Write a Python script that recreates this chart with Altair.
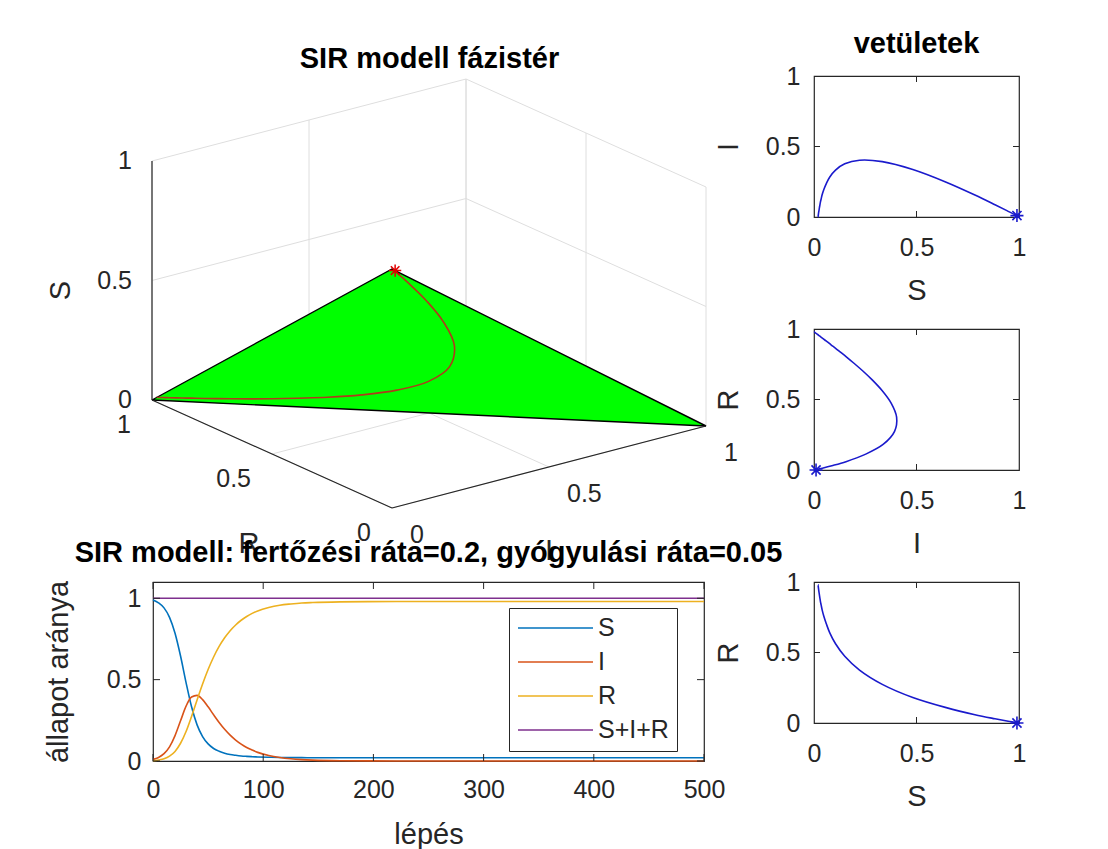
import altair as alt
import pandas as pd

# ---------------- data ----------------
steps = [0, 5, 10, 15, 20, 25, 30, 35, 40, 45, 50, 55, 60, 65, 70, 75, 80, 85, 90, 95,
         105, 115, 125, 135, 145, 170, 195, 245, 300, 400, 500]
S_vals = [0.990, 0.972, 0.941, 0.883, 0.785, 0.645, 0.482, 0.333, 0.222, 0.150,
          0.105, 0.077, 0.060, 0.048, 0.040, 0.035, 0.031, 0.0285, 0.0265, 0.025,
          0.0229, 0.0217, 0.0210, 0.0205, 0.0202, 0.0200, 0.0199, 0.0199, 0.0198, 0.0198, 0.0198]
I_vals = [0.010, 0.022, 0.045, 0.087, 0.156, 0.247, 0.337, 0.393, 0.403, 0.377,
          0.333, 0.284, 0.237, 0.195, 0.159, 0.129, 0.104, 0.083, 0.067, 0.053,
          0.034, 0.0216, 0.0137, 0.0087, 0.0055, 0.0017, 0.0006, 0.0001, 0.0, 0.0, 0.0]
R_vals = [0.000, 0.006, 0.014, 0.030, 0.059, 0.109, 0.181, 0.274, 0.375, 0.473,
          0.562, 0.639, 0.704, 0.757, 0.801, 0.836, 0.865, 0.888, 0.907, 0.922,
          0.943, 0.957, 0.965, 0.971, 0.974, 0.978, 0.9795, 0.980, 0.980, 0.980, 0.980]
total_steps = [0, 500]
total_vals = [1.0, 1.0]

series_names = ["S", "I", "R", "S+I+R"]
series_colors = ["#0072BD", "#D95319", "#EDB120", "#7E2F8E"]
unit_ticks = [0, 0.5, 1]
step_ticks = [0, 100, 200, 300, 400, 500]

title_3d = "SIR modell fázistér"
title_proj = "vetületek"
title_ts = "SIR modell: fertőzési ráta=0.2, gyógyulási ráta=0.05"
ts_xlabel = "lépés"
ts_ylabel = "állapot aránya"

# ---------------- style ----------------
FONT = "Liberation Sans"
TXT = "#262626"
TICK_FS = 25
LAB_FS = 29
TITLE_FS = 29
STAR = "M-1,0L1,0M0,-1L0,1M-0.7,-0.7L0.7,0.7M-0.7,0.7L0.7,-0.7"
PHASE_BLUE = "#1a1acc"

# ---------------- 3D phase space (fixed camera projection) ----------------
W3, H3 = 591, 470
ORIG = (239.0, 38.0)
DIR_S = (0.0, 239.0)
DIR_I = (314.0, 82.0)
DIR_R = (-240.0, 108.0)


def proj(s, i, r):
    return (ORIG[0] + DIR_S[0] * s + DIR_I[0] * i + DIR_R[0] * r,
            ORIG[1] + DIR_S[1] * s + DIR_I[1] * i + DIR_R[1] * r)


def seg_df(segs):
    rows = []
    for a, b in segs:
        x1, y1 = proj(*a)
        x2, y2 = proj(*b)
        rows.append(dict(x=x1, y=y1, x2=x2, y2=y2))
    return pd.DataFrame(rows)


grid_segs = []
for v in unit_ticks:
    grid_segs += [((0, v, 1), (1, v, 1)), ((v, 0, 1), (v, 1, 1)),
                  ((0, 1, v), (1, 1, v)), ((v, 1, 0), (v, 1, 1)),
                  ((0, v, 0), (0, v, 1)), ((0, 0, v), (0, 1, v))]
grid_df = seg_df(grid_segs)
axes_df = seg_df([((0, 0, 1), (1, 0, 1)), ((0, 0, 0), (0, 0, 1)), ((0, 0, 0), (0, 1, 0))])

# simplex S+I+R=1
cR, cS, cI = proj(0, 0, 1), proj(1, 0, 0), proj(0, 1, 0)


def lower(x):
    return cR[1] + (cI[1] - cR[1]) * (x - cR[0]) / (cI[0] - cR[0])


tri_df = pd.DataFrame([
    dict(x=cR[0], y=cR[1], y2=cR[1]),
    dict(x=cS[0], y=cS[1], y2=lower(cS[0])),
    dict(x=cI[0], y=cI[1], y2=cI[1]),
])
edge_df = pd.DataFrame([dict(x=p[0], y=p[1], k=k) for k, p in enumerate([cR, cS, cI, cR])])

traj_df = pd.DataFrame([dict(x=proj(s, i, r)[0], y=proj(s, i, r)[1], t=t)
                        for t, s, i, r in zip(steps, S_vals, I_vals, R_vals)])
start_df = traj_df.iloc[[0]]

lab_s = pd.DataFrame([dict(x=proj(v, 0, 1)[0] - 20, y=proj(v, 0, 1)[1], label=f"{v:g}") for v in unit_ticks])
lab_r = pd.DataFrame([dict(x=proj(0, 0, v)[0] - 21, y=proj(0, 0, v)[1] - 25, label=f"{v:g}") for v in unit_ticks])
lab_i = pd.DataFrame([dict(x=proj(0, v, 0)[0] + 18, y=proj(0, v, 0)[1] - 27, label=f"{v:g}") for v in unit_ticks])
ttl_s = pd.DataFrame([dict(x=proj(0.5, 0, 1)[0] - 91, y=proj(0.5, 0, 1)[1] - 10, label="S")])
ttl_ri = pd.DataFrame([dict(x=proj(0, 0, 0.5)[0] - 23, y=proj(0, 0, 0.5)[1] - 90, label="R"),
                       dict(x=proj(0, 0.5, 0)[0] + 0, y=proj(0, 0.5, 0)[1] - 84, label="I")])

X3 = alt.X("x:Q", scale=alt.Scale(domain=[0, W3], nice=False, zero=False), axis=None)
Y3 = alt.Y("y:Q", scale=alt.Scale(domain=[0, H3], nice=False, zero=False), axis=None)

l_grid = alt.Chart(grid_df).mark_rule(color="#dedede", strokeWidth=1).encode(X3, Y3, x2="x2:Q", y2="y2:Q")
l_fill = alt.Chart(tri_df).mark_area(color="#00ff00", opacity=1).encode(X3, Y3, y2="y2:Q")
l_edge = alt.Chart(edge_df).mark_line(color="#000000", strokeWidth=1.4).encode(X3, Y3, order="k:Q")
l_axes = alt.Chart(axes_df).mark_rule(color="#262626", strokeWidth=1.2).encode(X3, Y3, x2="x2:Q", y2="y2:Q")
l_traj = alt.Chart(traj_df).mark_line(color="#b03a1c", strokeWidth=1.6,
                                      interpolate="catmull-rom").encode(X3, Y3, order="t:Q")
l_star = alt.Chart(start_df).mark_point(shape=STAR, filled=False, color="#e00000", size=150,
                                        strokeWidth=1.5, opacity=1).encode(X3, Y3)
txt = dict(font=FONT, fontSize=TICK_FS, color=TXT, baseline="middle")
l_ls = alt.Chart(lab_s).mark_text(align="right", **txt).encode(X3, Y3, text="label:N")
l_lr = alt.Chart(lab_r).mark_text(align="right", **txt).encode(X3, Y3, text="label:N")
l_li = alt.Chart(lab_i).mark_text(align="left", **txt).encode(X3, Y3, text="label:N")
l_ts = alt.Chart(ttl_s).mark_text(align="center", angle=270, font=FONT, fontSize=LAB_FS, color=TXT,
                                  baseline="middle").encode(X3, Y3, text="label:N")
l_tri = alt.Chart(ttl_ri).mark_text(align="center", font=FONT, fontSize=LAB_FS, color=TXT,
                                    baseline="middle").encode(X3, Y3, text="label:N")

c3d = alt.layer(l_grid, l_fill, l_edge, l_axes, l_traj, l_star, l_ls, l_lr, l_li, l_ts, l_tri).properties(
    width=W3, height=H3,
    title=alt.TitleParams(title_3d, offset=2, dx=-19),
    view=alt.ViewBackground(stroke="transparent"),
)


# ---------------- inward tick marks (MATLAB style) ----------------
def inner_ticks(xf, yf, xdom, ydom, xvals, yvals, ln=7):
    bx = pd.DataFrame({xf: xvals, yf: [ydom[0]] * len(xvals)})
    tx = pd.DataFrame({xf: xvals, yf: [ydom[1]] * len(xvals)})
    ly = pd.DataFrame({xf: [xdom[0]] * len(yvals), yf: yvals})
    ry = pd.DataFrame({xf: [xdom[1]] * len(yvals), yf: yvals})
    xs = alt.Scale(domain=xdom, nice=False)
    ys = alt.Scale(domain=ydom, nice=False)
    enc = dict(x=alt.X(f"{xf}:Q", scale=xs), y=alt.Y(f"{yf}:Q", scale=ys))
    kw = dict(color=TXT, size=ln, thickness=1, opacity=1)
    return [
        alt.Chart(bx).mark_tick(orient="vertical", yOffset=-ln / 2, **kw).encode(**enc),
        alt.Chart(tx).mark_tick(orient="vertical", yOffset=ln / 2, **kw).encode(**enc),
        alt.Chart(ly).mark_tick(orient="horizontal", xOffset=ln / 2, **kw).encode(**enc),
        alt.Chart(ry).mark_tick(orient="horizontal", xOffset=-ln / 2, **kw).encode(**enc),
    ]


# ---------------- time series ----------------
rows = []
for name, vals in (("S", S_vals), ("I", I_vals), ("R", R_vals)):
    rows += [dict(step=t, value=v, series=name) for t, v in zip(steps, vals)]
rows += [dict(step=t, value=v, series="S+I+R") for t, v in zip(total_steps, total_vals)]
ts_df = pd.DataFrame(rows)

ts_lines = alt.Chart(ts_df).mark_line(strokeWidth=1.6, interpolate="monotone").encode(
    x=alt.X("step:Q", scale=alt.Scale(domain=[0, 500], nice=False),
            axis=alt.Axis(values=step_ticks, title=ts_xlabel, labelPadding=16, titlePadding=18)),
    y=alt.Y("value:Q", scale=alt.Scale(domain=[0, 1.1], nice=False),
            axis=alt.Axis(values=unit_ticks, format="~g", title=ts_ylabel, labelPadding=12, titlePadding=33)),
    color=alt.Color("series:N", sort=series_names,
                    scale=alt.Scale(domain=series_names, range=series_colors),
                    legend=alt.Legend(title=None, orient="none", legendX=356, legendY=532,
                                      direction="vertical", symbolType="stroke", symbolSize=5625,
                                      symbolStrokeWidth=1.5, clipHeight=24, strokeColor="#262626",
                                      fillColor="white", padding=8, rowPadding=9,
                                      labelFontSize=25, labelFont=FONT, labelColor=TXT,
                                      labelOffset=4)),
)
ts = alt.layer(ts_lines, *inner_ticks("step", "value", [0, 500], [0, 1.1], step_ticks, unit_ticks)).properties(
    width=551, height=179, title=alt.TitleParams(title_ts, offset=12))

# ---------------- projections ----------------
phase_df = pd.DataFrame(dict(step=steps, S=S_vals, I=I_vals, R=R_vals))
phase_start = phase_df.iloc[[0]]


def panel(xcol, ycol, title=None):
    xs = alt.Scale(domain=[0, 1], nice=False)
    ys = alt.Scale(domain=[0, 1], nice=False)
    line = alt.Chart(phase_df).mark_line(color=PHASE_BLUE, strokeWidth=1.6, interpolate="catmull-rom").encode(
        x=alt.X(f"{xcol}:Q", scale=xs,
                axis=alt.Axis(values=unit_ticks, format="~g", title=xcol, labelPadding=18, titlePadding=16)),
        y=alt.Y(f"{ycol}:Q", scale=ys,
                axis=alt.Axis(values=unit_ticks, format="~g", title=ycol, labelPadding=14, titlePadding=22)),
        order="step:Q",
    )
    star = alt.Chart(phase_start).mark_point(shape=STAR, filled=False, color=PHASE_BLUE, size=170,
                                             strokeWidth=1.6, opacity=1).encode(
        x=alt.X(f"{xcol}:Q", scale=xs), y=alt.Y(f"{ycol}:Q", scale=ys))
    ticks = inner_ticks(xcol, ycol, [0, 1], [0, 1], [0.5], [0.5], ln=6)
    props = dict(width=205, height=141)
    if title:
        props["title"] = alt.TitleParams(title, offset=5)
    return alt.layer(line, star, *ticks).properties(**props)


right = alt.vconcat(panel("S", "I", title_proj), panel("I", "R"), panel("S", "R"),
                    spacing=112, bounds="flush")
left = alt.vconcat(c3d, ts, spacing=36, bounds="flush")

chart = alt.hconcat(left, right, spacing=-70).properties(
    padding={"left": 35, "top": 21, "right": 5, "bottom": 5}
).configure(font=FONT).configure_axis(
    labelFont=FONT, labelFontSize=TICK_FS, labelColor=TXT,
    titleFont=FONT, titleFontSize=LAB_FS, titleFontWeight="normal", titleColor=TXT,
    grid=False, ticks=False, tickSize=0, domain=False, labelFlush=False,
).configure_title(
    font=FONT, fontSize=TITLE_FS, fontWeight="bold", color="#000000", anchor="middle"
).configure_view(stroke="#262626", strokeWidth=1.2)

chart.save("out.html", embed_options={"renderer": "svg", "actions": False})
